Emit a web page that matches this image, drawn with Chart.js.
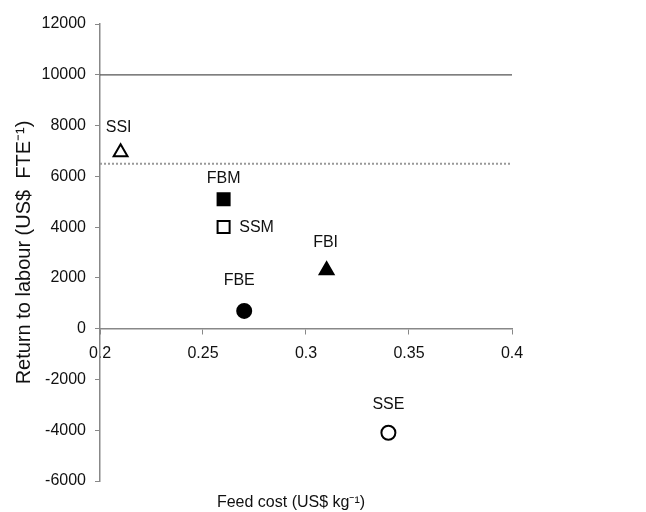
<!DOCTYPE html>
<html>
<head>
<meta charset="utf-8">
<script src="https://cdn.jsdelivr.net/npm/chart.js@4.4.0/dist/chart.umd.min.js"></script>
<style>
  html, body { margin: 0; padding: 0; background: #fff; }
  #wrap { width: 646px; height: 512px; }
</style>
</head>
<body>
<div id="wrap"><canvas id="chart" width="646" height="512"></canvas></div>
<script>
// data
let systems = ['SSI', 'FBM', 'SSM', 'FBI', 'FBE', 'SSE'];
let feedCost = [0.21, 0.26, 0.26, 0.31, 0.27, 0.34];
let returnLabour = [6950, 5100, 4000, 2300, 700, -4100];
let solidLineY = 10000;
let dottedLineY = 6500;
let xRange = [0.2, 0.4];
let yRange = [-6000, 12000];

// marker look per system
let markerStyle = ['triangle', 'rect', 'rect', 'triangle', 'circle', 'circle'];
let markerFilled = [false, true, false, true, true, false];
let markerRadius = [8, 8.5, 8.5, 8, 7, 7];
// label offset from the marker, px
let labelOffset = [[-2, -25], [0, -21], [33, 0], [-1, -28], [-5, -30], [0, -28]];

let fontFamily = '"Liberation Sans", Arial, sans-serif';

let pointLabels = {
  id: 'pointLabels',
  afterDatasetsDraw(chart) {
    let ctx = chart.ctx;
    let xs = chart.scales.x, ys = chart.scales.y;
    ctx.save();
    ctx.font = '16px ' + fontFamily;
    ctx.fillStyle = '#111';
    ctx.textAlign = 'center';
    ctx.textBaseline = 'middle';
    systems.forEach((name, i) => {
      let px = xs.getPixelForValue(feedCost[i]) + labelOffset[i][0];
      let py = ys.getPixelForValue(returnLabour[i]) + labelOffset[i][1];
      ctx.fillText(name, px, py);
    });
    // x axis title sits at the bottom of the figure
    ctx.fillText('Feed cost (US$ kg\u207B\u00B9)', 291, 503);
    ctx.restore();
  }
};

let ctx = document.getElementById('chart');
let myChart = new Chart(ctx, {
  type: 'scatter',
  data: {
    datasets: [
      {
        type: 'line',
        data: [{ x: xRange[0], y: solidLineY }, { x: xRange[1], y: solidLineY }],
        borderColor: '#555',
        borderWidth: 1.2,
        pointRadius: 0
      },
      {
        type: 'line',
        data: [{ x: xRange[0], y: dottedLineY }, { x: xRange[1], y: dottedLineY }],
        borderColor: '#999',
        borderWidth: 2,
        borderDash: [2, 2],
        pointRadius: 0
      },
      {
        data: systems.map((s, i) => ({ x: feedCost[i], y: returnLabour[i] })),
        pointStyle: markerStyle,
        pointRadius: markerRadius,
        pointBackgroundColor: markerFilled.map(f => f ? '#000' : '#fff'),
        pointBorderColor: '#000',
        pointBorderWidth: 2
      }
    ]
  },
  options: {
    responsive: false,
    animation: false,
    layout: { padding: { left: 0, right: 134, top: 24, bottom: 31 } },
    plugins: {
      legend: { display: false },
      tooltip: { enabled: false }
    },
    scales: {
      x: {
        type: 'linear',
        position: { y: 0 },
        min: xRange[0],
        max: xRange[1],
        grid: { drawOnChartArea: false, tickLength: 5, color: '#888' },
        border: { color: '#888', width: 1.5 },
        ticks: {
          stepSize: 0.05,
          padding: 10,
          maxRotation: 0,
          autoSkip: false,
          color: '#111',
          font: { family: fontFamily, size: 16 },
          callback: v => String(Math.round(v * 100) / 100)
        }
      },
      y: {
        min: yRange[0],
        max: yRange[1],
        afterFit: scale => { scale.width = 100; },
        grid: { drawOnChartArea: false, tickLength: 5, color: '#888' },
        border: { color: '#888', width: 1.5 },
        ticks: {
          stepSize: 2000,
          padding: 9,
          color: '#111',
          font: { family: fontFamily, size: 16 },
          callback: v => String(v)
        },
        title: {
          display: true,
          text: 'Return to labour (US$  FTE\u207B\u00B9)',
          color: '#111',
          font: { family: fontFamily, size: 20 },
          padding: { top: 12, bottom: 0 }
        }
      }
    }
  },
  plugins: [pointLabels]
});
</script>
</body>
</html>
